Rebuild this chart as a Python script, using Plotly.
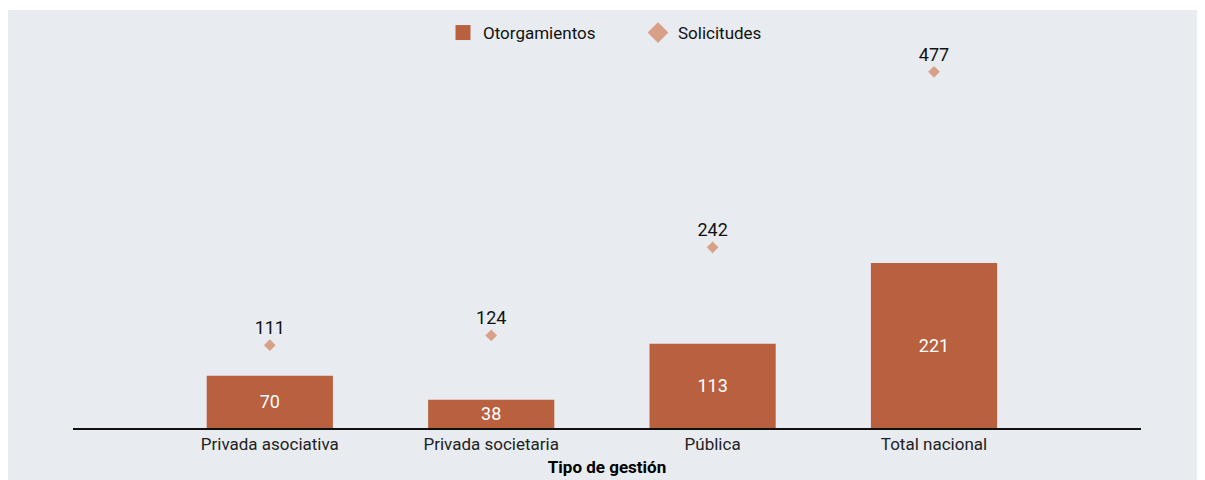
import plotly.graph_objects as go

categorias = ["Privada asociativa", "Privada societaria", "Pública", "Total nacional"]
otorgamientos = [70, 38, 113, 221]
solicitudes = [111, 124, 242, 477]

BAR = "#b9613f"
DIA = "#d9a088"
BG = "#e8ecf0"
FONT = "Roboto, Arial, sans-serif"

fig = go.Figure()
fig.add_trace(go.Bar(
    x=categorias, y=otorgamientos, name="Otorgamientos",
    marker=dict(color=BAR, line=dict(width=0)),
    width=0.57,
    text=[str(v) for v in otorgamientos], textposition="inside",
    insidetextanchor="middle",
    textfont=dict(color="white", size=18, family=FONT),
    showlegend=False, legendgroup="oto",
    hoverinfo="skip",
))
# legend entry with the larger square used in the reference legend
fig.add_trace(go.Scatter(
    x=[None], y=[None], name="Otorgamientos", mode="markers",
    marker=dict(symbol="square", color=BAR, size=15),
    legendgroup="oto", showlegend=True, hoverinfo="skip",
))
fig.add_trace(go.Scatter(
    x=categorias, y=solicitudes, name="Solicitudes",
    mode="markers+text",
    marker=dict(symbol="diamond", color=DIA, size=9),
    text=[str(v) for v in solicitudes], textposition="top center",
    textfont=dict(color="#111111", size=18, family=FONT),
    cliponaxis=False, showlegend=False, legendgroup="sol",
    hoverinfo="skip",
))
# legend entry with the larger diamond used in the reference legend
fig.add_trace(go.Scatter(
    x=[None], y=[None], name="Solicitudes", mode="markers",
    marker=dict(symbol="diamond", color=DIA, size=16),
    legendgroup="sol", showlegend=True, hoverinfo="skip",
))

# page offset of the figure (browser body margin)
OFF = 8
W, H = 1205 - OFF, 480 - OFF
L = 73 - OFF
R = W - (1141 - OFF)
B = H - (428 - OFF)
T = 0
ph = H - T - B          # plot height in px
PX_PER_UNIT = 165 / 221
YMAX = ph / PX_PER_UNIT

def py(p):  # page y pixel -> paper y
    return (428 - p) / ph

# thin white strip at very top (gray starts at page y=10)
fig.add_shape(type="rect", xref="paper", yref="paper",
              x0=-1, x1=2, y0=py(10), y1=1.0,
              fillcolor="white", line=dict(width=0), layer="below")

fig.update_layout(
    width=W, height=H,
    margin=dict(l=L, r=R, t=T, b=B),
    paper_bgcolor=BG, plot_bgcolor="rgba(0,0,0,0)",
    font=dict(family=FONT, size=17, color="#222222"),
    showlegend=True,
    legend=dict(orientation="h", x=(443 - 73) / (1141 - 73), xanchor="left",
                y=py(33), yanchor="middle",
                font=dict(size=17, color="#111111"),
                bgcolor="rgba(0,0,0,0)",
                entrywidth=150, entrywidthmode="pixels",
                traceorder="normal"),
    xaxis=dict(range=[-0.889, 3.935], showline=True, linecolor="#111111",
               linewidth=1.5, showgrid=False, ticks="", zeroline=False,
               tickfont=dict(size=17, color="#222222"),
               title=dict(text="<b>Tipo de gestión</b>", standoff=8,
                          font=dict(size=17, color="#000000"))),
    yaxis=dict(range=[0, YMAX], visible=False, showgrid=False, zeroline=False),
)

fig.write_html("out.html")
